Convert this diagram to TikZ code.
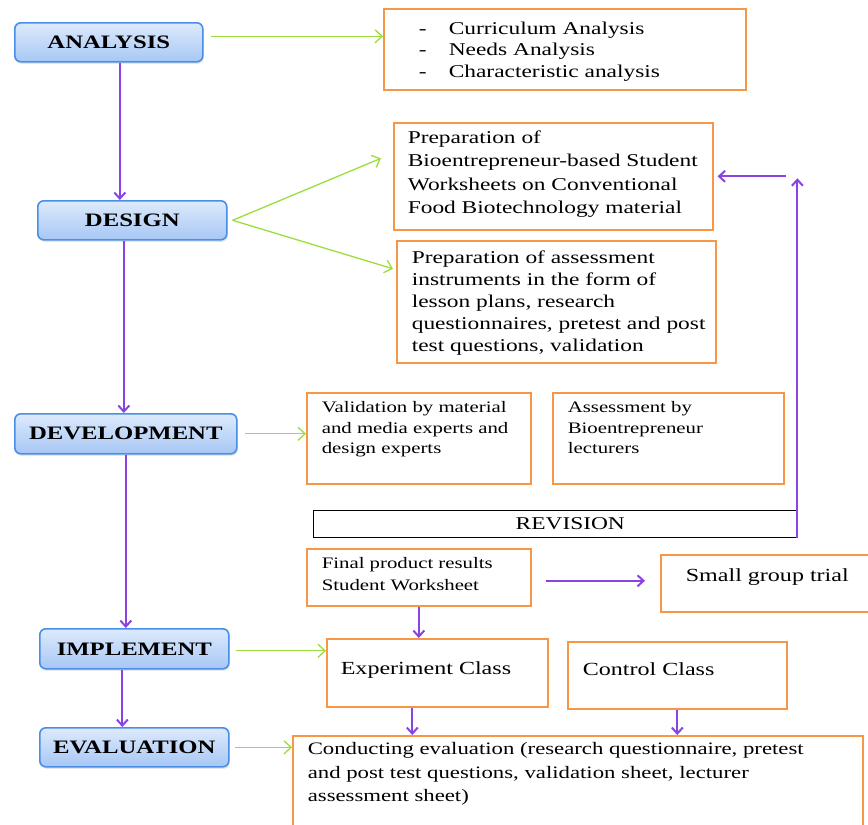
\documentclass[tikz,border=0pt]{standalone}
\usepackage{fontspec}
\setmainfont{Liberation Serif}[FakeStretch=1.3]
\usepackage{tikz}
\usetikzlibrary{arrows.meta, shadows}

\definecolor{stageblue}{HTML}{4A8FE7}
\definecolor{stagetop}{HTML}{DDEAFC}
\definecolor{stagebot}{HTML}{A7C7F5}
\definecolor{boxorange}{HTML}{F79646}
\definecolor{arrgreen}{HTML}{9BDD3C}
\definecolor{arrpurple}{HTML}{8A43E2}

% text block inside a box: left pad, top pad, width, height, lines
\newcommand{\boxtext}[5]{\parbox[t][#4][t]{#3}{\vspace*{#2}\raggedright\leftskip=#1\relax #5}}

\tikzset{
  stage/.style={draw=stageblue, line width=1.6pt, rounded corners=6pt,
    top color=stagetop, bottom color=stagebot, anchor=north west,
    font=\fontsize{19}{20}\selectfont\bfseries,
    drop shadow={opacity=0.2, shadow xshift=1pt, shadow yshift=-2pt}},
  outbox/.style={draw=boxorange, line width=1.6pt, anchor=north west, inner sep=0pt},
  grnarrow/.style={draw=arrgreen, line width=1.3pt, -{Straight Barb[length=7pt,width=13pt]}},
  purarrow/.style={draw=arrpurple, line width=2pt, -{Straight Barb[length=6pt,width=11pt]}},
}

\begin{document}
\begin{tikzpicture}[x=1pt, y=-1pt]
\useasboundingbox (0,0) rectangle (868,825);
\clip (0,0) rectangle (868,825);

% Stages
\node[stage, minimum width=188, minimum height=39] (ana) at (14,22) {ANALYSIS};
\node[stage, minimum width=189, minimum height=39] (des) at (37,200) {DESIGN};
\node[stage, minimum width=222, minimum height=40] (dev) at (14,413) {DEVELOPMENT};
\node[stage, minimum width=189, minimum height=40] (imp) at (39,628) {IMPLEMENT};
\node[stage, minimum width=189, minimum height=39] (eva) at (39,727) {EVALUATION};

% Analysis output
\node[outbox, font=\fontsize{18}{21.5}\selectfont] (lst) at (383,8)
  {\boxtext{35pt}{13pt}{362pt}{81pt}{\makebox[30pt][l]{-}Curriculum Analysis\\
   \makebox[30pt][l]{-}Needs Analysis\\ \makebox[30pt][l]{-}Characteristic analysis}};

% Design outputs
\node[outbox, font=\fontsize{18}{23.3}\selectfont] (d1) at (393,122)
  {\boxtext{14pt}{8pt}{319pt}{107pt}{Preparation of\\ Bioentrepreneur-based Student\\
   Worksheets on Conventional\\ Food Biotechnology material}};
\node[outbox, font=\fontsize{18}{22}\selectfont] (d2) at (396,240)
  {\boxtext{15pt}{10pt}{319pt}{122pt}{Preparation of assessment\\ instruments in the form of\\
   lesson plans, research\\ questionnaires, pretest and post\\ test questions, validation}};

% Development outputs
\node[outbox, font=\fontsize{16}{20.5}\selectfont] (v1) at (306,392)
  {\boxtext{15pt}{9pt}{224pt}{91pt}{Validation by material\\ and media experts and\\ design experts}};
\node[outbox, font=\fontsize{16}{20.5}\selectfont] (v2) at (552,392)
  {\boxtext{15pt}{9pt}{231pt}{91pt}{Assessment by\\ Bioentrepreneur\\ lecturers}};
\node[draw, line width=1.4pt, anchor=north west, inner sep=0pt, font=\fontsize{18}{20}\selectfont] (rev) at (313,510)
  {\boxtext{202pt}{7pt}{483pt}{27pt}{REVISION}};
\node[outbox, font=\fontsize{16}{22}\selectfont] (fin) at (306,548)
  {\boxtext{15pt}{9pt}{224pt}{57pt}{Final product results\\ Student Worksheet}};
\node[outbox, font=\fontsize{18.5}{22}\selectfont] (sgt) at (660,554)
  {\boxtext{25pt}{14pt}{220pt}{57pt}{Small group trial}};

% Implement and evaluation outputs
\node[outbox, font=\fontsize{18.5}{22}\selectfont] (exp) at (326,638)
  {\boxtext{14pt}{23pt}{221pt}{68pt}{Experiment Class}};
\node[outbox, font=\fontsize{18.5}{22}\selectfont] (ctl) at (567,641)
  {\boxtext{15pt}{21pt}{219pt}{67pt}{Control Class}};
\node[outbox, font=\fontsize{17.5}{23.5}\selectfont] (cond) at (292,735)
  {\boxtext{15pt}{7pt}{570pt}{100pt}{Conducting evaluation (research questionnaire, pretest\\
   and post test questions, validation sheet, lecturer\\ assessment sheet)}};

% Stage flow
\draw[purarrow] ([xshift=11]ana.south) -- ([xshift=11]ana.south |- des.north);
\draw[purarrow] ([xshift=-2]dev.north |- des.south) -- ([xshift=-2]dev.north);
\draw[purarrow] (dev.south) -- (dev.south |- imp.north);
\draw[purarrow] ([xshift=-12]imp.south) -- ([xshift=-12]imp.south |- eva.north);

% Green links
\draw[grnarrow] ([xshift=7,yshift=6]ana.east) -- ([yshift=6]ana.east -| lst.west);
\draw[grnarrow] ([xshift=5]des.east) -- ([xshift=-12,yshift=18]d1.west);
\draw[grnarrow] ([xshift=5]des.east) -- ([xshift=-3,yshift=33]d2.west);
\draw[grnarrow] ([xshift=7]dev.east) -- (dev.east -| v1.west);
\draw[grnarrow] ([xshift=6,yshift=-2]imp.east) -- ([yshift=-2]imp.east -| exp.west);
\draw[grnarrow] ([xshift=5]eva.east) -- (eva.east -| cond.west);

% Revision loop and trial
\draw[purarrow] (rev.south east) -- ([yshift=-2]rev.east |- d1.east);
\draw[purarrow] ([xshift=72]d1.east) -- ([xshift=4]d1.east);
\draw[purarrow] ([shift={(14,3.5)}]fin.east) -- ([shift={(-15,3.5)}]fin.east -| sgt.west);
\draw[purarrow] (fin.south) -- (fin.south |- exp.north);
\draw[purarrow] ([xshift=-25]exp.south) -- ([xshift=-25]exp.south |- cond.north);
\draw[purarrow] (ctl.south) -- (ctl.south |- cond.north);
\end{tikzpicture}
\end{document}
